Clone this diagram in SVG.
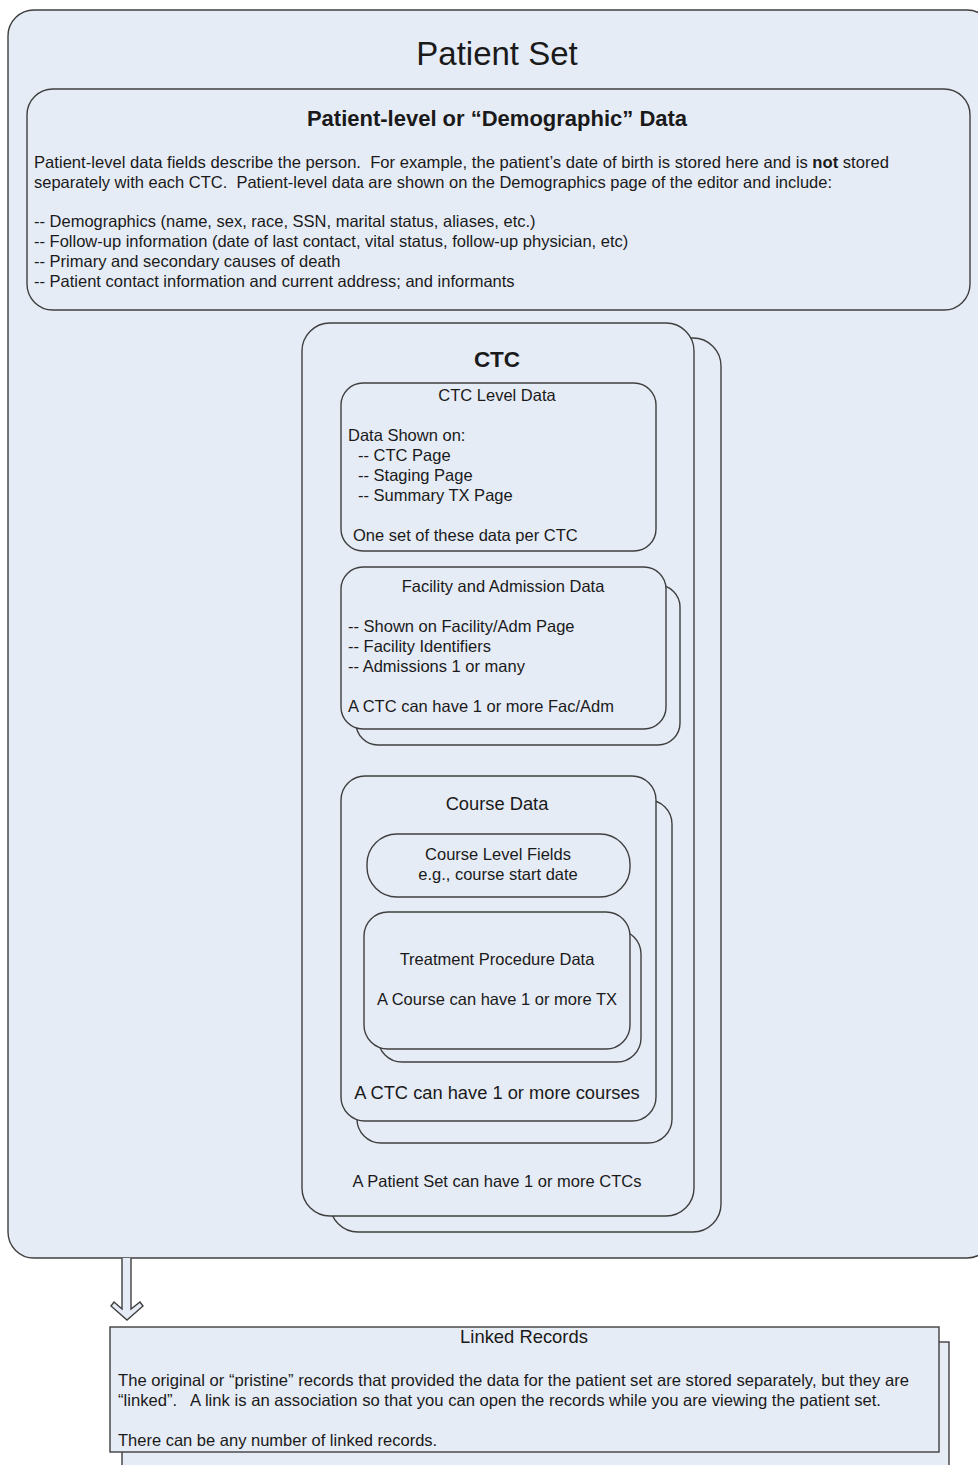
<svg xmlns="http://www.w3.org/2000/svg" width="978" height="1465" viewBox="0 0 978 1465">
<style>
.b{fill:#e6ecf6;stroke:#3f3f3f;stroke-width:1.4}
.t{font-family:"Liberation Sans",Arial,sans-serif;font-size:16.5px;fill:#1a1a1a;white-space:pre}
.c{text-anchor:middle}
.h{font-weight:bold}
</style>
<rect width="978" height="1465" fill="#ffffff"/>
<g id="patient-set">
<rect class="b" x="8" y="10" width="985" height="1248" rx="26"/>
<text class="t c" x="497" y="65" style="font-size:33px">Patient Set</text>
</g>
<g id="demographic">
<rect class="b" x="27" y="89" width="943" height="221" rx="26"/>
<text class="t c h" x="497" y="126" style="font-size:22px">Patient-level or “Demographic” Data</text>
<text class="t" x="34" y="168" textLength="855" lengthAdjust="spacingAndGlyphs" xml:space="preserve">Patient-level data fields describe the person.  For example, the patient’s date of birth is stored here and is <tspan font-weight="bold">not</tspan> stored</text>
<text class="t" x="34" y="188" textLength="798" lengthAdjust="spacingAndGlyphs" xml:space="preserve">separately with each CTC.  Patient-level data are shown on the Demographics page of the editor and include:</text>
<text class="t" x="34" y="227">-- Demographics (name, sex, race, SSN, marital status, aliases, etc.)</text>
<text class="t" x="34" y="247">-- Follow-up information (date of last contact, vital status, follow-up physician, etc)</text>
<text class="t" x="34" y="267">-- Primary and secondary causes of death</text>
<text class="t" x="34" y="287">-- Patient contact information and current address; and informants</text>
</g>
<g id="ctc">
<rect class="b" x="330" y="338" width="391" height="894" rx="28"/>
<rect class="b" x="302" y="323" width="392" height="893" rx="28"/>
<text class="t c h" x="497" y="367" style="font-size:22.5px">CTC</text>
<text class="t c" x="497" y="1187">A Patient Set can have 1 or more CTCs</text>
</g>
<g id="ctc-level">
<rect class="b" x="341" y="383" width="315" height="168" rx="22"/>
<text class="t c" x="497" y="401">CTC Level Data</text>
<text class="t" x="348" y="441">Data Shown on:</text>
<text class="t" x="358" y="461">-- CTC Page</text>
<text class="t" x="358" y="481">-- Staging Page</text>
<text class="t" x="358" y="501">-- Summary TX Page</text>
<text class="t" x="353" y="541">One set of these data per CTC</text>
</g>
<g id="facility">
<rect class="b" x="356" y="585" width="324" height="160" rx="22"/>
<rect class="b" x="341" y="567" width="325" height="162" rx="22"/>
<text class="t c" x="503" y="592">Facility and Admission Data</text>
<text class="t" x="348" y="632">-- Shown on Facility/Adm Page</text>
<text class="t" x="348" y="652">-- Facility Identifiers</text>
<text class="t" x="348" y="672">-- Admissions 1 or many</text>
<text class="t" x="348" y="712">A CTC can have 1 or more Fac/Adm</text>
</g>
<g id="course">
<rect class="b" x="357" y="800" width="315" height="343" rx="24"/>
<rect class="b" x="341" y="776" width="315" height="345" rx="24"/>
<text class="t c" x="497" y="810" style="font-size:18.3px">Course Data</text>
<text class="t c" x="497" y="1099" style="font-size:18.3px">A CTC can have 1 or more courses</text>
</g>
<g id="course-level">
<rect class="b" x="367" y="834" width="263" height="63" rx="30"/>
<text class="t c" x="498" y="860">Course Level Fields</text>
<text class="t c" x="498" y="880">e.g., course start date</text>
</g>
<g id="treatment">
<rect class="b" x="378" y="930" width="263" height="132" rx="24"/>
<rect class="b" x="364" y="912" width="266" height="137" rx="24"/>
<text class="t c" x="497" y="965">Treatment Procedure Data</text>
<text class="t c" x="497" y="1005">A Course can have 1 or more TX</text>
</g>
<g id="connectors">
<path class="b" d="M122,1258 L122,1309 L114,1302 L111,1306 L127,1320 L143,1306 L140,1302 L131,1309 L131,1258" stroke-linejoin="miter"/>
</g>
<g id="linked-records">
<rect class="b" x="122" y="1342" width="827" height="140"/>
<rect class="b" x="110" y="1327" width="829" height="125"/>
<text class="t c" x="524" y="1343" style="font-size:18.4px">Linked Records</text>
<text class="t" x="118" y="1386" textLength="791" lengthAdjust="spacingAndGlyphs">The original or “pristine” records that provided the data for the patient set are stored separately, but they are</text>
<text class="t" x="118" y="1406" textLength="763" lengthAdjust="spacingAndGlyphs" xml:space="preserve">“linked”.   A link is an association so that you can open the records while you are viewing the patient set.</text>
<text class="t" x="118" y="1446">There can be any number of linked records.</text>
</g>
</svg>
